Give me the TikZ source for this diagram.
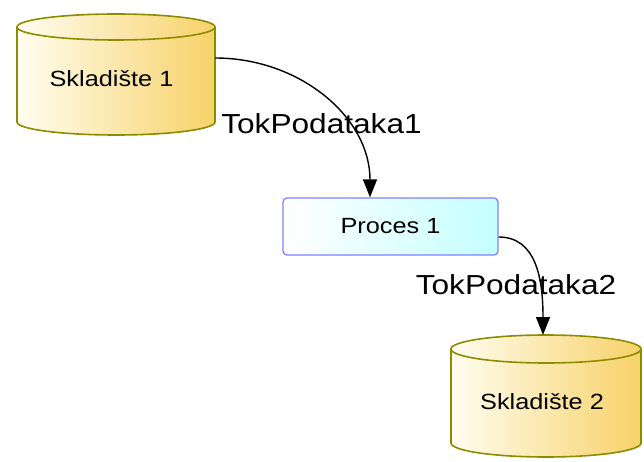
\documentclass[tikz,border=0pt]{standalone}
\usepackage{fontspec}
\setmainfont{Liberation Sans}[FakeStretch=1.15]
\usetikzlibrary{arrows.meta}

\definecolor{storeline}{RGB}{140,140,0}
\definecolor{storegold}{RGB}{247,210,105}
\definecolor{storelight}{RGB}{255,253,240}
\definecolor{procline}{RGB}{128,128,255}
\definecolor{proccyan}{RGB}{196,255,255}

\tikzset{
  store/.style={draw=storeline, line width=1.6pt, left color=storelight, right color=storegold},
  storetext/.style={font=\fontsize{22}{25}\selectfont, anchor=base, inner sep=0pt},
  proc/.style={draw=procline, line width=1.3pt, rounded corners=4pt, left color=white, right color=proccyan,
    minimum width=215pt, minimum height=57pt, font=\fontsize{22}{25}\selectfont},
  flowlabel/.style={font=\fontsize{27.5}{31}\selectfont, anchor=base, inner sep=0pt},
  flow/.style={line width=1.4pt, -{Triangle[length=18pt,width=14pt]}}
}

\begin{document}
\begin{tikzpicture}[x=1pt,y=-1pt]
\useasboundingbox (0,0) rectangle (644,462);

% Skladiste 1
\path[store] (17,27) -- (17,122) arc[start angle=180, end angle=0, x radius=99, y radius=13]
  -- (215,27) arc[start angle=0, end angle=-180, x radius=99, y radius=13] -- cycle;
\draw[storeline, line width=1.6pt] (17,27) arc[start angle=180, end angle=0, x radius=99, y radius=13];
\node[storetext] (s1) at (111.5,87) {Skladište 1};
\coordinate (s1r) at (215,58);

% Skladiste 2
\path[store] (451,349) -- (451,443) arc[start angle=180, end angle=0, x radius=95, y radius=14]
  -- (641,349) arc[start angle=0, end angle=-180, x radius=95, y radius=14] -- cycle;
\draw[storeline, line width=1.6pt] (451,349) arc[start angle=180, end angle=0, x radius=95, y radius=14];
\node[storetext] (s2) at (542,409) {Skladište 2};
\coordinate (s2t) at (543,335);

% Proces
\node[proc] (p1) at (390.5,226.5) {Proces 1};

% tokovi
\draw[flow] (s1r) .. controls +(85,0) and +(0,-80) .. ([xshift=-20.5pt]p1.north);
\draw[flow] ([yshift=-10.5pt]p1.east) .. controls +(38,0) and +(0,-55) .. (s2t);

\node[flowlabel] (t1) at (321.5,134) {TokPodataka1};
\node[flowlabel] (t2) at (516,294) {TokPodataka2};
\end{tikzpicture}
\end{document}
